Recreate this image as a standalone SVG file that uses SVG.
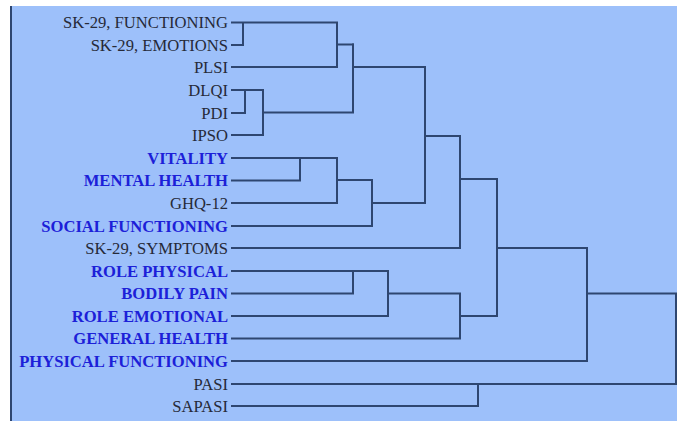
<svg xmlns="http://www.w3.org/2000/svg" width="677" height="421" viewBox="0 0 677 421">
<style>
.bg{fill:#9dc0fa}
.lbl{font-family:"Liberation Serif","Times New Roman",serif;font-size:16.6px;text-anchor:end}
.k{fill:#262a38}
.b{fill:#1c20d8;font-weight:bold}
.c{stroke:#2e4670;stroke-width:2;fill:none;stroke-linecap:square}
</style>
<rect x="0" y="0" width="677" height="421" fill="#ffffff"/>
<rect class="bg" x="10" y="6" width="667" height="415"/>
<line x1="11" y1="6" x2="11" y2="421" stroke="#2e4670" stroke-width="2"/>
<g id="n-sk29-functioning"><text class="lbl k" x="228" y="28">SK-29, FUNCTIONING</text></g>
<g id="n-sk29-emotions"><text class="lbl k" x="228" y="50.5">SK-29, EMOTIONS</text></g>
<g id="n-plsi"><text class="lbl k" x="228" y="73">PLSI</text></g>
<g id="n-dlqi"><text class="lbl k" x="228" y="95.5">DLQI</text></g>
<g id="n-pdi"><text class="lbl k" x="228" y="118.5">PDI</text></g>
<g id="n-ipso"><text class="lbl k" x="228" y="140.5">IPSO</text></g>
<g id="n-vitality"><text class="lbl b" x="228" y="163.5">VITALITY</text></g>
<g id="n-mental-health"><text class="lbl b" x="228" y="185.5">MENTAL HEALTH</text></g>
<g id="n-ghq12"><text class="lbl k" x="228" y="208.5">GHQ-12</text></g>
<g id="n-social-functioning"><text class="lbl b" x="228" y="231.5">SOCIAL FUNCTIONING</text></g>
<g id="n-sk29-symptoms"><text class="lbl k" x="228" y="253.5">SK-29, SYMPTOMS</text></g>
<g id="n-role-physical"><text class="lbl b" x="228" y="276.5">ROLE PHYSICAL</text></g>
<g id="n-bodily-pain"><text class="lbl b" x="228" y="298.5">BODILY PAIN</text></g>
<g id="n-role-emotional"><text class="lbl b" x="228" y="321.5">ROLE EMOTIONAL</text></g>
<g id="n-general-health"><text class="lbl b" x="228" y="343.5">GENERAL HEALTH</text></g>
<g id="n-physical-functioning"><text class="lbl b" x="228" y="366.5">PHYSICAL FUNCTIONING</text></g>
<g id="n-pasi"><text class="lbl k" x="228" y="389.5">PASI</text></g>
<g id="n-sapasi"><text class="lbl k" x="228" y="411.5">SAPASI</text></g>
<g id="connectors" class="c">
<path d="M232 22.5H337M232 45H243V22.5M232 67H337V22.5M337 44.5H353"/>
<path d="M232 90H263M232 113H245V90M232 135H263V90M263 112.5H353V44.5M353 67H425V203"/>
<path d="M232 158H337M232 180.5H300V158M232 203H337V158M337 180H372M232 226H372V180M372 203H425"/>
<path d="M425 136H460M232 248H460V136M460 179H497V316"/>
<path d="M232 271H388M232 293.5H353V271M232 316H388V271M388 293.5H460M232 338.5H460V293.5M460 316H497"/>
<path d="M497 248H587M232 361H587V248M587 293.5H676M232 384H676V293.5M232 406H478V384"/>
</g>
</svg>
